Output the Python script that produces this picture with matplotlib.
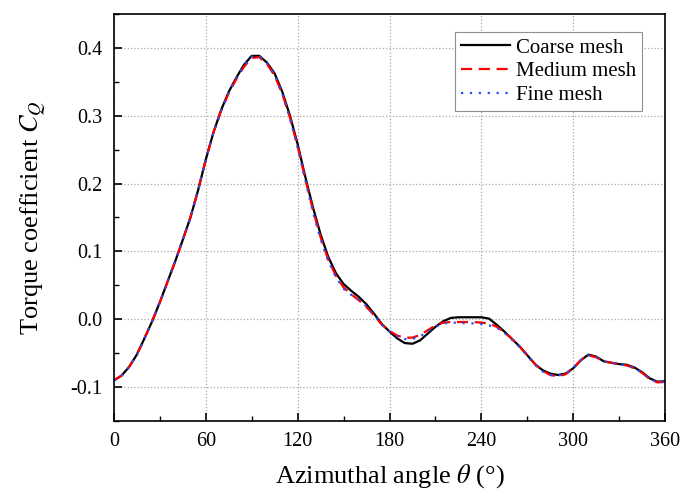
import matplotlib
matplotlib.use("Agg")
import matplotlib.pyplot as plt
from matplotlib.ticker import MultipleLocator

plt.rcParams['font.family'] = ['Liberation Serif', 'DejaVu Serif']
plt.rcParams['mathtext.fontset'] = 'stix'

theta = list(range(0, 361, 5))

coarse = [-0.090, -0.083, -0.070, -0.052, -0.028, -0.003, 0.025, 0.055, 0.085, 0.117,
          0.150, 0.190, 0.235, 0.275, 0.308, 0.335, 0.356, 0.375, 0.388, 0.388,
          0.378, 0.362, 0.335, 0.300, 0.258, 0.210, 0.165, 0.125, 0.092, 0.068,
          0.052, 0.042, 0.033, 0.022, 0.008, -0.007, -0.018, -0.028, -0.035, -0.036,
          -0.031, -0.021, -0.011, -0.003, 0.002, 0.003, 0.003, 0.003, 0.003, 0.001,
          -0.008, -0.018, -0.029, -0.040, -0.053, -0.066, -0.075, -0.080, -0.082, -0.080,
          -0.072, -0.060, -0.052, -0.055, -0.062, -0.064, -0.066, -0.067, -0.071, -0.078,
          -0.087, -0.092, -0.091]

medium = [-0.090, -0.083, -0.070, -0.052, -0.028, -0.003, 0.025, 0.055, 0.085, 0.117,
          0.150, 0.190, 0.235, 0.275, 0.307, 0.333, 0.354, 0.372, 0.385, 0.386,
          0.376, 0.359, 0.332, 0.297, 0.255, 0.207, 0.161, 0.121, 0.088, 0.064,
          0.047, 0.037, 0.028, 0.018, 0.006, -0.008, -0.017, -0.024, -0.027, -0.027,
          -0.023, -0.016, -0.009, -0.005, -0.004, -0.004, -0.004, -0.004, -0.005, -0.006,
          -0.011, -0.019, -0.029, -0.040, -0.053, -0.066, -0.076, -0.082, -0.084, -0.081,
          -0.072, -0.060, -0.053, -0.056, -0.062, -0.064, -0.066, -0.068, -0.072, -0.079,
          -0.088, -0.093, -0.092]

fine = [-0.090, -0.083, -0.070, -0.052, -0.028, -0.003, 0.025, 0.055, 0.085, 0.117,
        0.150, 0.190, 0.235, 0.275, 0.307, 0.334, 0.355, 0.374, 0.387, 0.387,
        0.377, 0.360, 0.332, 0.296, 0.253, 0.205, 0.158, 0.118, 0.086, 0.062,
        0.045, 0.036, 0.029, 0.019, 0.006, -0.008, -0.018, -0.025, -0.029, -0.029,
        -0.025, -0.018, -0.011, -0.006, -0.005, -0.005, -0.006, -0.006, -0.007, -0.009,
        -0.012, -0.020, -0.030, -0.041, -0.054, -0.067, -0.077, -0.082, -0.083, -0.080,
        -0.072, -0.060, -0.053, -0.056, -0.062, -0.064, -0.066, -0.068, -0.072, -0.079,
        -0.088, -0.093, -0.092]

labels = ['Coarse mesh', 'Medium mesh', 'Fine mesh']

fig = plt.figure(figsize=(6.9, 4.92), dpi=100)
ax = fig.add_axes([0.165, 0.144, 0.799, 0.828])

ax.plot(theta, coarse, color='black', lw=1.6, ls='-', label=labels[0])
ax.plot(theta, medium, color='#ff0000', lw=1.6, ls=(0, (5, 3)), label=labels[1])
ax.plot(theta, fine, color='#1f4fff', lw=1.6, ls=(0, (1, 3)), label=labels[2])

ax.set_xlim(0, 360)
ax.set_ylim(-0.15, 0.45)
ax.xaxis.set_major_locator(MultipleLocator(60))
ax.xaxis.set_minor_locator(MultipleLocator(30))
ax.yaxis.set_minor_locator(MultipleLocator(0.05))
ax.set_yticks([-0.1, 0.0, 0.1, 0.2, 0.3, 0.4])
ax.set_yticklabels(['-0.1', '0.0', '0.1', '0.2', '0.3', '0.4'])

ax.tick_params(which='both', direction='in', top=False, right=False, labelsize=14.5)
ax.tick_params(which='major', length=6, width=1.2, pad=8)
ax.tick_params(which='minor', length=3.5, width=1.0)

ax.grid(True, which='major', color='#a8a8a8', ls=':', lw=0.9)
for s in ax.spines.values():
    s.set_linewidth(1.2)

ax.set_xlabel(r'Azimuthal angle $\theta$ (°)', fontsize=19, labelpad=8)
ax.set_ylabel(r'Torque coefficient $C_Q$', fontsize=19, labelpad=16)

leg = ax.legend(loc='upper right', bbox_to_anchor=(0.958, 0.956), borderaxespad=0,
                fontsize=15, handlelength=2.35, handletextpad=0.25, labelspacing=0.2,
                borderpad=0.3, fancybox=False, framealpha=1)
leg.get_frame().set_edgecolor('#909090')
leg.get_frame().set_linewidth(0.8)

fig.savefig('out.png', dpi=100)
